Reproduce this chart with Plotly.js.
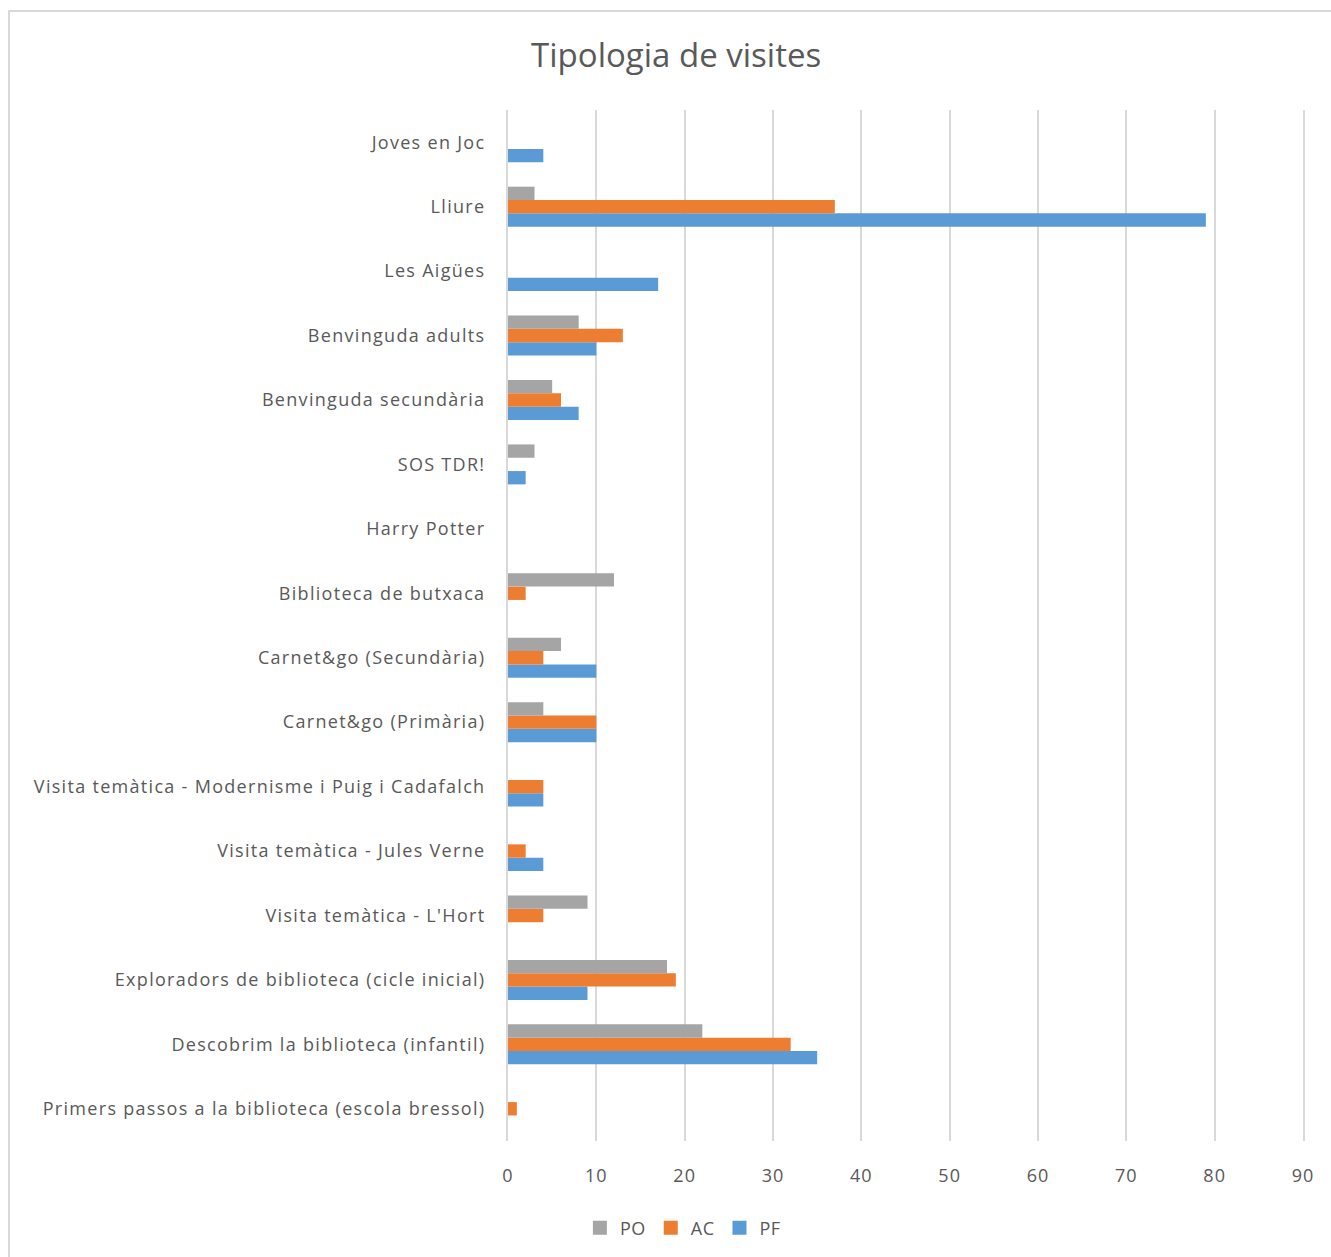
<!DOCTYPE html>
<html><head><meta charset="utf-8">
<script src="https://cdn.plot.ly/plotly-3.0.1.min.js"></script>
<style>
body{margin:0;background:#fff;}
#wrap{position:relative;width:1331px;height:1257px;}
#chart{width:1331px;height:1257px;}
#frame{position:absolute;left:8px;top:10px;width:1330px;height:1260px;border:2px solid #D9D9D9;box-sizing:border-box;pointer-events:none;}
.ytick text {letter-spacing: 1.3px;}
.xtick text {letter-spacing: 1px;}
.legendtext {letter-spacing: 0.5px;}
</style></head>
<body><div id="wrap"><div id="chart"></div><div id="frame"></div></div>
<script>
const categories = [
  "Primers passos a la biblioteca (escola bressol)",
  "Descobrim la biblioteca (infantil)",
  "Exploradors de biblioteca (cicle inicial)",
  "Visita temàtica - L'Hort",
  "Visita temàtica - Jules Verne",
  "Visita temàtica - Modernisme i Puig i Cadafalch",
  "Carnet&go (Primària)",
  "Carnet&go (Secundària)",
  "Biblioteca de butxaca",
  "Harry Potter",
  "SOS TDR!",
  "Benvinguda secundària",
  "Benvinguda adults",
  "Les Aigües",
  "Lliure",
  "Joves en Joc"
];
const PO = [null, 22, 18, 9, null, null, 4, 6, 12, null, 3, 5, 8, null, 3, null];
const AC = [1, 32, 19, 4, 2, 4, 10, 4, 2, null, null, 6, 13, null, 37, null];
const PF = [null, 35, 9, null, 4, 4, 10, 10, null, null, 2, 8, 10, 17, 79, 4];
const xTicks = [0,10,20,30,40,50,60,70,80,90];
const seriesNames = ['PO', 'AC', 'PF'];
const seriesColors = ['#A5A5A5', '#ED7D31', '#5B9BD5'];

const font = "'Open Sans', sans-serif";
const mk = (name, vals, color) => ({
  type: 'bar', orientation: 'h', name: name, y: categories, x: vals,
  marker: {color: color, line: {width: 0}}, showlegend: false, hoverinfo: 'x+y+name'
});
const data = [
  mk('PF', PF, seriesColors[2]),
  mk('AC', AC, seriesColors[1]),
  mk('PO', PO, seriesColors[0])
];
// legend entries with larger square keys
seriesNames.forEach((n, i) => data.push({
  type: 'scatter', mode: 'markers', name: n, x: [null], y: [null],
  marker: {symbol: 'square', size: 14, color: seriesColors[i]}, showlegend: true
}));
const layout = {
  width: 1331, height: 1257,
  margin: {l: 508, r: 28, t: 110, b: 115},
  paper_bgcolor: '#fff', plot_bgcolor: '#fff',
  font: {family: font, color: '#595959', size: 18},
  title: {text: 'Tipologia de visites', x: 0.508, xref: 'container', xanchor: 'center',
          y: 1 - 55/1257, yref: 'container', yanchor: 'middle',
          font: {family: font, size: 33, color: '#595959'}},
  barmode: 'group', bargap: 0.38, bargroupgap: 0,
  xaxis: {range: [0, 90], tickvals: xTicks, ticktext: xTicks.map(String),
          showgrid: true, gridcolor: '#D9D9D9', gridwidth: 2, zeroline: false,
          showline: false, ticks: '', ticklabelstandoff: 22,
          tickfont: {family: font, size: 18, color: '#595959'}, fixedrange: true},
  yaxis: {type: 'category', categoryorder: 'array', categoryarray: categories,
          showgrid: false, zeroline: false, showline: true, mirror: true,
          linecolor: '#D9D9D9', linewidth: 2, ticks: '',
          ticklabelstandoff: 17, automargin: false,
          tickfont: {family: font, size: 18, color: '#595959'}},
  showlegend: true,
  legend: {orientation: 'h', traceorder: 'normal', x: 0.22, xanchor: 'center',
           y: -(1228-1142)/1032, yanchor: 'middle',
           font: {family: font, size: 18, color: '#595959'},
           itemwidth: 30, itemsizing: 'trace'}
};
Plotly.newPlot('chart', data, layout, {displayModeBar: false, staticPlot: true});
</script></body></html>
